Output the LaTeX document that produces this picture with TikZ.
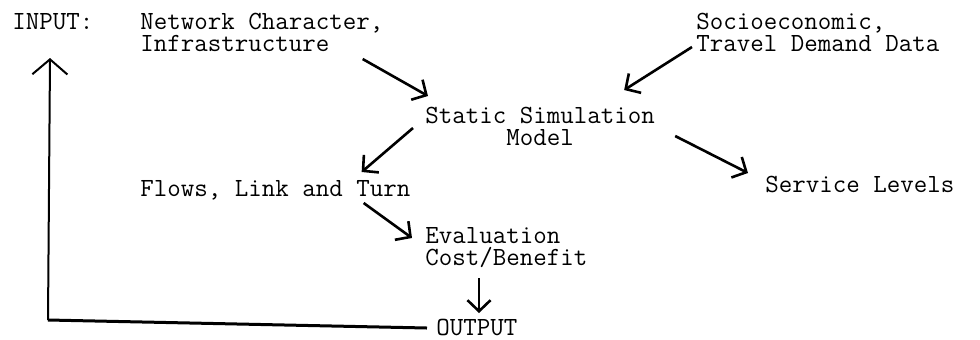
\documentclass[tikz,border=0pt]{standalone}
\usepackage{tikz}
\usetikzlibrary{arrows.meta}
\tikzset{
  label text/.style={anchor=base west,inner sep=0pt,align=left,font=\ttfamily\fontsize{13.1bp}{11bp}\selectfont},
  flowarrow/.style={-{Straight Barb[length=5.5bp,width=11.5bp]},line width=1.3bp},
  feedback/.style={-{Straight Barb[length=7.5bp,width=17.5bp]},line width=1bp}
}
\begin{document}
\begin{tikzpicture}[x=0.5bp,y=-0.5bp]
  \useasboundingbox (0,0) rectangle (980,339);
  % last line of each text sits on the given point
  \node[label text] (input)   at (12,29)  {INPUT:};
  \node[label text] (network) at (140,51) {Network Character,\\Infrastructure};
  \node[label text] (socio)   at (696,51) {Socioeconomic,\\Travel Demand Data};
  \node[label text,align=center] (model) at (425,145) {Static Simulation\\Model};
  \node[label text] (flows)   at (140,196) {Flows, Link and Turn};
  \node[label text] (service) at (765,192) {Service Levels};
  \node[label text] (eval)    at (425,265) {Evaluation\\Cost/Benefit};
  \node[label text] (output)  at (436,335) {OUTPUT};

  % inputs into the model
  \draw[flowarrow] ([shift={(-21,8)}]network.base east) -- ([shift={(3,-49)}]model.base west);
  \draw[flowarrow] ([shift={(-4,-4)}]socio.base west) -- ([shift={(-31,-55)}]model.base east);

  % model outputs
  \draw[flowarrow] ([shift={(-12,-17)}]model.base west) -- ([shift={(-49,-24)}]flows.base east);
  \draw[flowarrow] ([shift={(20,-9)}]model.base east) -- ([shift={(-17,-19)}]service.base west);
  \draw[flowarrow] ([shift={(-47,7)}]flows.base east) -- ([shift={(-13,-27)}]eval.base west);
  \draw[flowarrow] ([shift={(54,13)}]eval.base west) -- ([shift={(43,-22)}]output.base west);

  % feedback loop
  \coordinate (corner) at (48,320);
  \draw[line width=1.5bp] ([shift={(-9,-7)}]output.base west) -- (corner);
  \draw[feedback] (corner) -- ([shift={(38,29)}]input.base west);
\end{tikzpicture}
\end{document}
